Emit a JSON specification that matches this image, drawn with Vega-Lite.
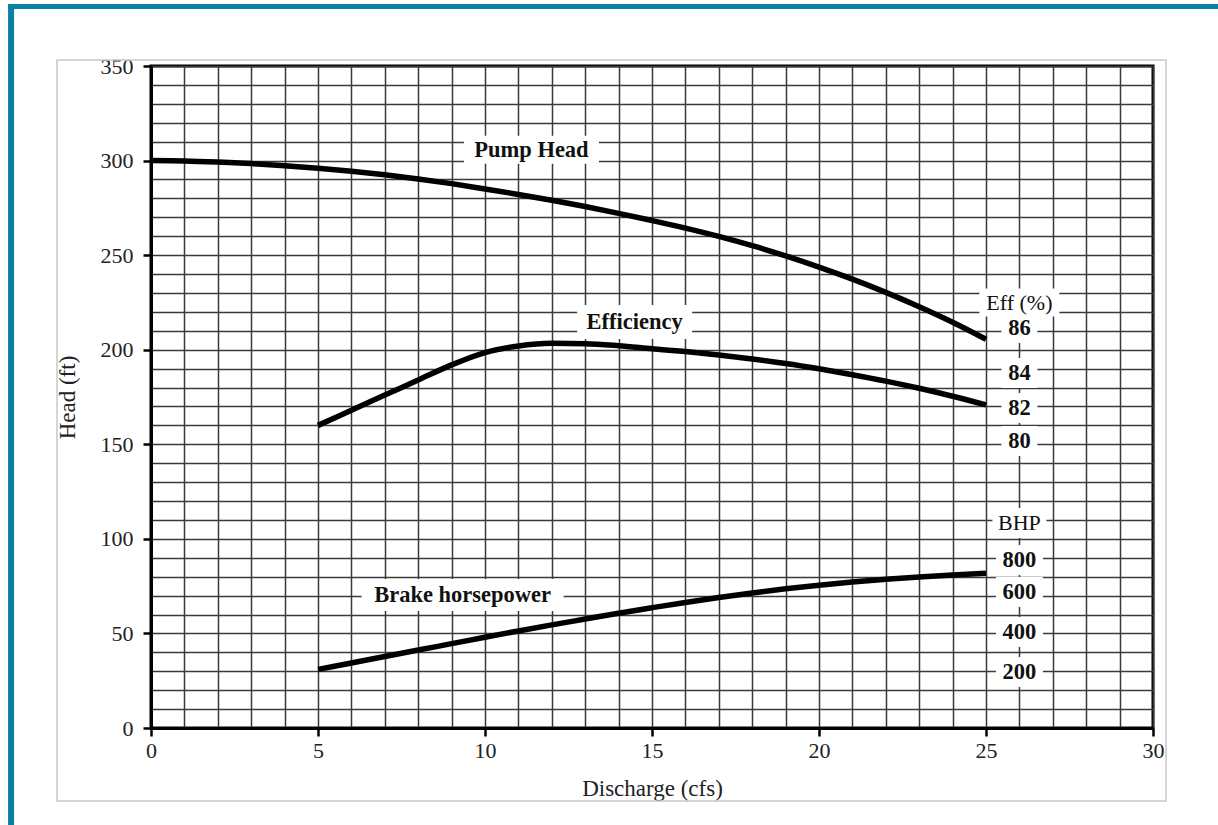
{
  "$schema": "https://vega.github.io/schema/vega-lite/v6.json",
  "width": 1002,
  "height": 662,
  "autosize": {"type": "none"},
  "padding": {"left": 151, "top": 66, "right": 65, "bottom": 97},
  "background": "white",
  "config": {
    "view": {"stroke": "black", "strokeWidth": 3},
    "font": "Liberation Serif"
  },
  "datasets": {
    "curves": [
      {"series": "Pump Head", "q": 0, "h": 300},
      {"series": "Pump Head", "q": 1, "h": 299.8},
      {"series": "Pump Head", "q": 2, "h": 299.2},
      {"series": "Pump Head", "q": 3, "h": 298.4},
      {"series": "Pump Head", "q": 4, "h": 297.3},
      {"series": "Pump Head", "q": 5, "h": 296.0},
      {"series": "Pump Head", "q": 6, "h": 294.4},
      {"series": "Pump Head", "q": 7, "h": 292.5},
      {"series": "Pump Head", "q": 8, "h": 290.3},
      {"series": "Pump Head", "q": 9, "h": 287.8},
      {"series": "Pump Head", "q": 10, "h": 285.0},
      {"series": "Pump Head", "q": 11, "h": 282.1},
      {"series": "Pump Head", "q": 12, "h": 279.0},
      {"series": "Pump Head", "q": 13, "h": 275.7},
      {"series": "Pump Head", "q": 14, "h": 272.1},
      {"series": "Pump Head", "q": 15, "h": 268.3},
      {"series": "Pump Head", "q": 16, "h": 264.3},
      {"series": "Pump Head", "q": 17, "h": 259.9},
      {"series": "Pump Head", "q": 18, "h": 255.0},
      {"series": "Pump Head", "q": 19, "h": 249.6},
      {"series": "Pump Head", "q": 20, "h": 243.7},
      {"series": "Pump Head", "q": 21, "h": 237.3},
      {"series": "Pump Head", "q": 22, "h": 230.3},
      {"series": "Pump Head", "q": 23, "h": 222.7},
      {"series": "Pump Head", "q": 24, "h": 214.5},
      {"series": "Pump Head", "q": 25, "h": 205.5},
      {"series": "Efficiency", "q": 5, "h": 160},
      {"series": "Efficiency", "q": 6, "h": 168},
      {"series": "Efficiency", "q": 7, "h": 176},
      {"series": "Efficiency", "q": 8, "h": 184},
      {"series": "Efficiency", "q": 9, "h": 192},
      {"series": "Efficiency", "q": 10, "h": 198.5},
      {"series": "Efficiency", "q": 11, "h": 202},
      {"series": "Efficiency", "q": 12, "h": 203.4},
      {"series": "Efficiency", "q": 13, "h": 203.2},
      {"series": "Efficiency", "q": 14, "h": 202.1},
      {"series": "Efficiency", "q": 15, "h": 200.5},
      {"series": "Efficiency", "q": 16, "h": 199.0},
      {"series": "Efficiency", "q": 17, "h": 197.2},
      {"series": "Efficiency", "q": 18, "h": 195.1},
      {"series": "Efficiency", "q": 19, "h": 192.7},
      {"series": "Efficiency", "q": 20, "h": 189.9},
      {"series": "Efficiency", "q": 21, "h": 186.8},
      {"series": "Efficiency", "q": 22, "h": 183.4},
      {"series": "Efficiency", "q": 23, "h": 179.6},
      {"series": "Efficiency", "q": 24, "h": 175.4},
      {"series": "Efficiency", "q": 25, "h": 170.8},
      {"series": "Brake horsepower", "q": 5, "h": 31},
      {"series": "Brake horsepower", "q": 6, "h": 34.4},
      {"series": "Brake horsepower", "q": 7, "h": 37.8},
      {"series": "Brake horsepower", "q": 8, "h": 41.2},
      {"series": "Brake horsepower", "q": 9, "h": 44.6},
      {"series": "Brake horsepower", "q": 10, "h": 48},
      {"series": "Brake horsepower", "q": 11, "h": 51.3},
      {"series": "Brake horsepower", "q": 12, "h": 54.5},
      {"series": "Brake horsepower", "q": 13, "h": 57.6},
      {"series": "Brake horsepower", "q": 14, "h": 60.7},
      {"series": "Brake horsepower", "q": 15, "h": 63.6},
      {"series": "Brake horsepower", "q": 16, "h": 66.4},
      {"series": "Brake horsepower", "q": 17, "h": 69},
      {"series": "Brake horsepower", "q": 18, "h": 71.4},
      {"series": "Brake horsepower", "q": 19, "h": 73.6},
      {"series": "Brake horsepower", "q": 20, "h": 75.5},
      {"series": "Brake horsepower", "q": 21, "h": 77.2},
      {"series": "Brake horsepower", "q": 22, "h": 78.6},
      {"series": "Brake horsepower", "q": 23, "h": 79.8},
      {"series": "Brake horsepower", "q": 24, "h": 80.9},
      {"series": "Brake horsepower", "q": 25, "h": 81.8}
    ],
    "labels": [
      {"text": "Pump Head", "q": 11.39, "h": 305.7},
      {"text": "Efficiency", "q": 14.48, "h": 214.7},
      {"text": "Brake horsepower", "q": 9.33, "h": 70.3},
      {"text": "Eff (%)", "q": 26, "h": 224.9},
      {"text": "86", "q": 26, "h": 211.5},
      {"text": "84", "q": 26, "h": 187.7},
      {"text": "82", "q": 26, "h": 169.2},
      {"text": "80", "q": 26, "h": 151.7},
      {"text": "BHP", "q": 26, "h": 108.4},
      {"text": "800", "q": 26, "h": 88.8},
      {"text": "600", "q": 26, "h": 71.9},
      {"text": "400", "q": 26, "h": 50.8},
      {"text": "200", "q": 26, "h": 29.6}
    ]
  },
  "layer": [
    {
      "data": {"values": [{}]},
      "mark": {"type": "rect", "fill": null, "stroke": "#c8c8c8", "strokeWidth": 1.5, "clip": false},
      "encoding": {
        "x": {"datum": -2.814, "type": "quantitative"},
        "x2": {"datum": 30.39},
        "y": {"datum": 353.2, "type": "quantitative"},
        "y2": {"datum": -38.6}
      }
    },
    {
      "data": {"values": [{}]},
      "mark": {"type": "rect", "fill": "#0b80a6", "clip": false},
      "encoding": {
        "x": {"datum": -4.28, "type": "quantitative"},
        "x2": {"datum": 31.95},
        "y": {"datum": 382.8, "type": "quantitative"},
        "y2": {"datum": 380.1}
      }
    },
    {
      "data": {"values": [{}]},
      "mark": {"type": "rect", "fill": "#0b80a6", "clip": false},
      "encoding": {
        "x": {"datum": -4.28, "type": "quantitative"},
        "x2": {"datum": -4.10},
        "y": {"datum": 382.8, "type": "quantitative"},
        "y2": {"datum": -51.3}
      }
    },
    {
      "data": {"name": "labels"},
      "transform": [{"filter": {"field": "text", "equal": "Pump Head"}}],
      "mark": {"type": "rect", "fill": "white", "width": 135, "height": 28},
      "encoding": {"x": {"field": "q", "type": "quantitative"}, "y": {"field": "h", "type": "quantitative"}}
    },
    {
      "data": {"name": "labels"},
      "transform": [{"filter": {"field": "text", "equal": "Efficiency"}}],
      "mark": {"type": "rect", "fill": "white", "width": 115, "height": 34},
      "encoding": {"x": {"field": "q", "type": "quantitative"}, "y": {"field": "h", "type": "quantitative"}}
    },
    {
      "data": {"name": "labels"},
      "transform": [{"filter": {"field": "text", "equal": "Brake horsepower"}}],
      "mark": {"type": "rect", "fill": "white", "width": 202, "height": 32},
      "encoding": {"x": {"field": "q", "type": "quantitative"}, "y": {"field": "h", "type": "quantitative"}}
    },
    {
      "data": {"name": "labels"},
      "transform": [{"filter": {"field": "text", "equal": "Eff (%)"}}],
      "mark": {"type": "rect", "fill": "white", "width": 80, "height": 28},
      "encoding": {"x": {"field": "q", "type": "quantitative"}, "y": {"field": "h", "type": "quantitative"}}
    },
    {
      "data": {"name": "labels"},
      "transform": [{"filter": {"field": "text", "equal": "BHP"}}],
      "mark": {"type": "rect", "fill": "white", "width": 54, "height": 30},
      "encoding": {"x": {"field": "q", "type": "quantitative"}, "y": {"field": "h", "type": "quantitative"}}
    },
    {
      "data": {"name": "labels"},
      "transform": [{"filter": {"field": "text", "oneOf": ["86", "84", "82", "80"]}}],
      "mark": {"type": "rect", "fill": "white", "width": 36, "height": 30},
      "encoding": {"x": {"field": "q", "type": "quantitative"}, "y": {"field": "h", "type": "quantitative"}}
    },
    {
      "data": {"name": "labels"},
      "transform": [{"filter": {"field": "text", "oneOf": ["800", "600", "400", "200"]}}],
      "mark": {"type": "rect", "fill": "white", "width": 47, "height": 30},
      "encoding": {"x": {"field": "q", "type": "quantitative"}, "y": {"field": "h", "type": "quantitative"}}
    },
    {
      "data": {"name": "curves"},
      "mark": {"type": "line", "color": "black", "strokeWidth": 5.5, "interpolate": "monotone", "strokeCap": "butt", "strokeJoin": "round"},
      "encoding": {
        "x": {"field": "q", "type": "quantitative", "scale": {"domain": [0, 30], "nice": false, "zero": false},
          "axis": {
            "values": [0,1,2,3,4,5,6,7,8,9,10,11,12,13,14,15,16,17,18,19,20,21,22,23,24,25,26,27,28,29,30],
            "tickCount": 200,
            "format": "d",
            "labelExpr": "datum.value % 5 === 0 ? datum.label : ''",
            "title": "Discharge (cfs)",
            "grid": true, "gridColor": "#3a3a3a", "gridWidth": 1.5, "gridOpacity": 1,
            "domainColor": "black", "domainWidth": 3,
            "tickColor": "black", "tickWidth": 2.5, "tickSize": 8,
            "tickOpacity": {"condition": {"test": "datum.value % 5 === 0", "value": 1}, "value": 0},
            "labelFont": "Liberation Serif", "labelFontSize": 22, "labelColor": "#222", "labelPadding": 4,
            "labelFlush": false, "labelOverlap": false,
            "titleFont": "Liberation Serif", "titleFontSize": 23, "titleFontWeight": "normal", "titleColor": "#222", "titlePadding": 16
          }},
        "y": {"field": "h", "type": "quantitative", "scale": {"domain": [0, 350], "nice": false, "zero": false},
          "axis": {
            "values": [0,10,20,30,40,50,60,70,80,90,100,110,120,130,140,150,160,170,180,190,200,210,220,230,240,250,260,270,280,290,300,310,320,330,340,350],
            "tickCount": 200,
            "format": "d",
            "labelExpr": "datum.value % 50 === 0 ? datum.label : ''",
            "title": "Head (ft)",
            "grid": true, "gridColor": "#3a3a3a", "gridWidth": 1.5, "gridOpacity": 1,
            "domainColor": "black", "domainWidth": 3,
            "tickColor": "black", "tickWidth": 2.5, "tickSize": 8,
            "tickOpacity": {"condition": {"test": "datum.value % 50 === 0", "value": 1}, "value": 0},
            "labelFont": "Liberation Serif", "labelFontSize": 22, "labelColor": "#222", "labelPadding": 10,
            "labelFlush": false, "labelOverlap": false,
            "titleFont": "Liberation Serif", "titleFontSize": 23, "titleFontWeight": "normal", "titleColor": "#222", "titlePadding": 21
          }},
        "detail": {"field": "series"}
      }
    },
    {
      "data": {"name": "labels"},
      "transform": [{"filter": {"not": {"field": "text", "oneOf": ["Eff (%)", "BHP"]}}}],
      "mark": {"type": "text", "font": "Liberation Serif", "fontSize": 22.5, "fontWeight": "bold", "color": "#111", "align": "center", "baseline": "middle"},
      "encoding": {
        "x": {"field": "q", "type": "quantitative"},
        "y": {"field": "h", "type": "quantitative"},
        "text": {"field": "text"}
      }
    },
    {
      "data": {"name": "labels"},
      "transform": [{"filter": {"field": "text", "oneOf": ["Eff (%)", "BHP"]}}],
      "mark": {"type": "text", "font": "Liberation Serif", "fontSize": 22, "fontWeight": "normal", "color": "#111", "align": "center", "baseline": "middle"},
      "encoding": {
        "x": {"field": "q", "type": "quantitative"},
        "y": {"field": "h", "type": "quantitative"},
        "text": {"field": "text"}
      }
    }
  ]
}
